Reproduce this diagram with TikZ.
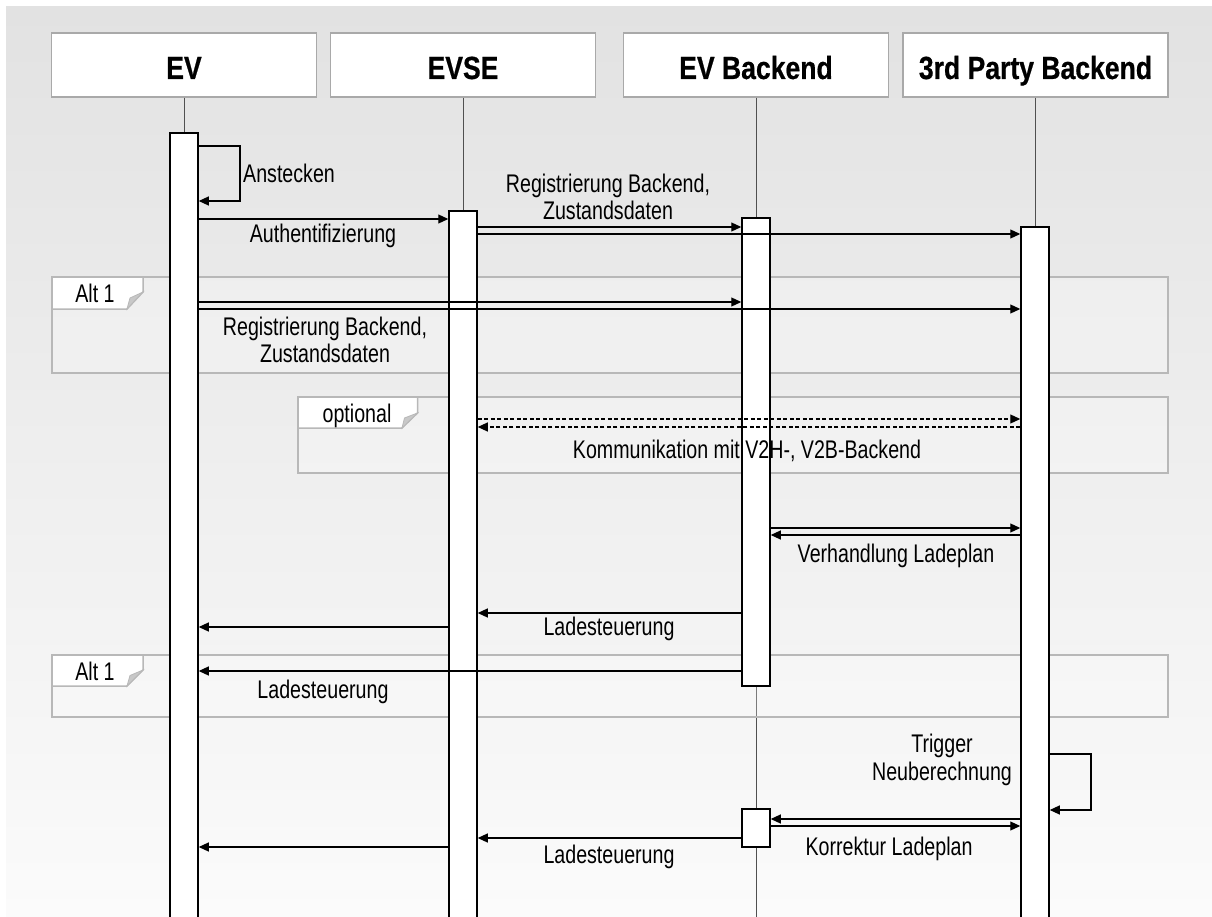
\documentclass[tikz,border=0pt]{standalone}
\usepackage{fontspec}
\setmainfont{Liberation Sans}[FakeStretch=0.77]
\newfontfamily\headfont{Liberation Sans}[FakeStretch=0.83, FakeBold=0.6]
\usetikzlibrary{arrows.meta}
\definecolor{bgtop}{HTML}{E2E2E2}
\definecolor{bgbot}{HTML}{FBFBFB}
\definecolor{boxline}{HTML}{A9A9A9}
\definecolor{frameline}{HTML}{B8B8B8}
\definecolor{foldgray}{HTML}{C8C8C8}
\definecolor{lifegray}{HTML}{505050}
\tikzset{
  header/.style={draw=boxline, line width=1.5pt, fill=white, minimum width=265pt, minimum height=64pt, inner sep=0pt},
  title/.style={anchor=base, inner sep=0pt, font=\headfont\fontsize{32}{37}\selectfont\bfseries},
  lifeline/.style={draw=lifegray, line width=1pt},
  act/.style={draw=black, line width=1.5pt, fill=white, minimum width=28pt, inner sep=0pt},
  msg/.style={draw=black, line width=1.1pt, -{Triangle[length=10pt,width=9pt]}},
  reply/.style={msg, dash pattern=on 4pt off 2.5pt},
  lbl/.style={anchor=base, inner sep=0pt, font=\fontsize{25.5}{30}\selectfont},
  frame/.style={draw=frameline, line width=1.5pt, fill=white, fill opacity=0.25},
  tab/.style={draw=frameline, line width=1.5pt, fill=white},
  fold/.style={fill=foldgray, draw=frameline, line width=0.8pt}
}
\begin{document}
\begin{tikzpicture}[x=1pt,y=-1pt]
\useasboundingbox (0,0) rectangle (1212,917);
\clip (0,0) rectangle (1212,917);
% backdrop
\fill[white] (0,0) rectangle (1212,917);
\shade[top color=bgtop, bottom color=bgbot] (6,7) rectangle (1212,917);

% participants
\node[header] (ev)   at (184,65)  {};
\node[header] (evse) at (463,65)  {};
\node[header] (evb)  at (756,65)  {};
\node[header] (tpb)  at (1035.5,65) {};
\node[title] at (184,79)  {EV};
\node[title] at (463,79)  {EVSE};
\node[title] at (756,79)  {EV Backend};
\node[title] at (1035.5,79) {3rd Party Backend};

% lifelines
\coordinate (bottom) at (0,917);
\draw[lifeline] (ev.south)   -- (ev.south |- bottom);
\draw[lifeline] (evse.south) -- (evse.south |- bottom);
\draw[lifeline] (evb.south)  -- (evb.south |- bottom);
\draw[lifeline] (tpb.south)  -- (tpb.south |- bottom);

% combined fragments
\draw[frame] (52,277) rectangle (1168,373);
\draw[tab] (52,277) -- (143,277) -- (143,292) -- (127,309) -- (52,309) -- cycle;
\draw[fold] (143,292) -- (127,309) -- (130,298) -- cycle;
\node[lbl] (alt1) at (95,302) {Alt 1};

\draw[frame] (298,397) rectangle (1168,473);
\draw[tab] (298,397) -- (417.5,397) -- (417.5,413) -- (402,428) -- (298,428) -- cycle;
\draw[fold] (417.5,413) -- (402,428) -- (404.5,418) -- cycle;
\node[lbl] (opt) at (357,422) {optional};

\draw[frame] (52,655) rectangle (1168,717);
\draw[tab] (52,655) -- (143,655) -- (143,670) -- (127,686) -- (52,686) -- cycle;
\draw[fold] (143,670) -- (127,686) -- (130,675.5) -- cycle;
\node[lbl] (alt2) at (95,680) {Alt 1};

% activation bars
\node[act, minimum height=800pt] (aEV)   at (184,533)  {};
\node[act, minimum height=720pt] (aEVSE) at (463,571)  {};
\node[act, minimum height=468pt] (aEVB)  at (756,452)  {};
\node[act, minimum height=700pt] (aTPB)  at (1035,577) {};
\node[act, minimum height=38pt]  (aEVB2) at (756,828)  {};

% messages
\draw[msg] (aEV.east |- 0,146) -- (240,146) |- (aEV.east |- 0,201);
\node[lbl, anchor=base west] at (243,183) {Anstecken};

\draw[msg] (aEV.east |- 0,219) -- (aEVSE.west |- 0,219);
\node[lbl] at (323,243) {Authentifizierung};

\draw[msg] (aEVSE.east |- 0,227) -- (aEVB.west |- 0,227);
\draw[msg] (aEVSE.east |- 0,234) -- (aTPB.west |- 0,234);
\node[lbl] at (608,193) {Registrierung Backend,};
\node[lbl] at (608,220) {Zustandsdaten};

\draw[msg] (aEV.east |- 0,302) -- (aEVB.west |- 0,302);
\draw[msg] (aEV.east |- 0,309) -- (aTPB.west |- 0,309);
\node[lbl] at (325,335) {Registrierung Backend,};
\node[lbl] at (325,362) {Zustandsdaten};

\draw[reply] (aEVSE.east |- 0,419) -- (aTPB.west |- 0,419);
\draw[reply] (aTPB.west |- 0,427) -- (aEVSE.east |- 0,427);
\node[lbl] at (747,458) {Kommunikation mit V2H-, V2B-Backend};

\draw[msg] (aEVB.east |- 0,528) -- (aTPB.west |- 0,528);
\draw[msg] (aTPB.west |- 0,535) -- (aEVB.east |- 0,535);
\node[lbl] at (896,562) {Verhandlung Ladeplan};

\draw[msg] (aEVB.west |- 0,613) -- (aEVSE.east |- 0,613);
\draw[msg] (aEVSE.west |- 0,627) -- (aEV.east |- 0,627);
\node[lbl] at (609,635) {Ladesteuerung};

\draw[msg] (aEVB.west |- 0,671) -- (aEV.east |- 0,671);
\node[lbl] at (323,698) {Ladesteuerung};

\draw[msg] (aTPB.east |- 0,754) -- (1091,754) |- (aTPB.east |- 0,810);
\node[lbl] at (942,752) {Trigger};
\node[lbl] at (942,780) {Neuberechnung};

\draw[msg] (aTPB.west |- 0,819) -- (aEVB2.east |- 0,819);
\draw[msg] (aEVB2.east |- 0,826) -- (aTPB.west |- 0,826);
\node[lbl] at (889,855) {Korrektur Ladeplan};

\draw[msg] (aEVB2.west |- 0,838) -- (aEVSE.east |- 0,838);
\draw[msg] (aEVSE.west |- 0,847) -- (aEV.east |- 0,847);
\node[lbl] at (609,863) {Ladesteuerung};
\end{tikzpicture}
\end{document}
